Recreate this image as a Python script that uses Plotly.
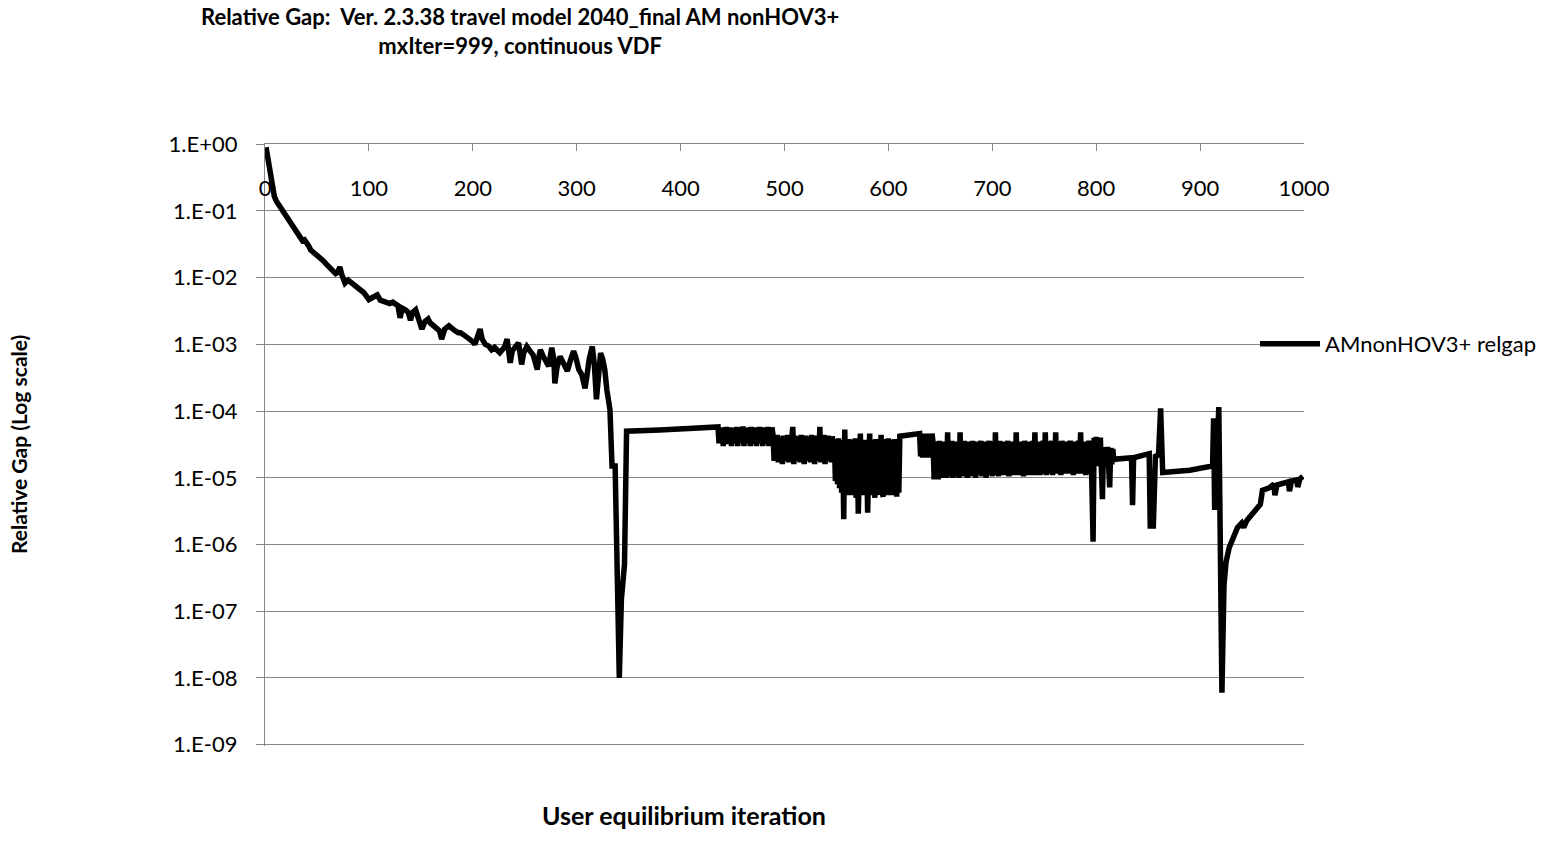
import plotly.graph_objects as go

# ---------------- data ----------------
# Early convergence phase (sparse points along the descending curve)
early_iter = [1, 3, 5, 7, 9, 11, 13, 15, 18, 21, 24, 27, 30, 33, 36, 38, 40, 42, 44, 47,
              50, 53, 56, 59, 62, 65, 68, 70, 72, 74, 77, 80, 83, 86, 89, 92, 95, 98, 100, 103,
              106, 108, 111, 114, 117, 120, 123, 126, 128, 130, 132, 135, 138, 140, 142, 145, 148, 151, 154, 157,
              159, 162, 165, 168, 170, 173, 177, 180, 183, 186, 188, 191, 194, 197, 200, 202, 205, 207, 209, 212,
              215, 218, 221, 224, 226, 229, 231, 233, 235, 236, 238, 241, 244, 246, 247, 249, 252, 255, 258, 260,
              262, 264, 265, 268, 270, 273, 276, 278, 279, 281, 284, 287, 289, 291, 294, 297, 299, 302, 305, 308,
              310, 312, 315, 317, 319, 321, 323, 325, 327, 329, 332, 334, 337, 341, 343, 346]
early_gap = [0.90, 0.55, 0.33, 0.22, 0.165, 0.14, 0.125, 0.11, 0.095, 0.078, 0.066, 0.056, 0.050, 0.042, 0.036, 0.037, 0.034, 0.030, 0.026, 0.024,
             0.022, 0.020, 0.018, 0.016, 0.0145, 0.013, 0.0115, 0.012, 0.0145, 0.011, 0.0083, 0.0092, 0.0085, 0.0080, 0.0072, 0.0066, 0.0060, 0.0052, 0.0047, 0.0050,
             0.0053, 0.0055, 0.0046, 0.0044, 0.0043, 0.0041, 0.0043, 0.0041, 0.0038, 0.0025, 0.0035, 0.0033, 0.0030, 0.0023, 0.0030, 0.0033, 0.0024, 0.0017, 0.0022, 0.0024,
             0.0021, 0.0019, 0.0018, 0.0016, 0.0012, 0.0017, 0.0019, 0.0017, 0.0016, 0.0015, 0.0015, 0.0014, 0.0013, 0.0012, 0.0011, 0.0010, 0.0013, 0.0017, 0.0012, 0.0010,
             0.00095, 0.00083, 0.00090, 0.00078, 0.00075, 0.00085, 0.00095, 0.0012, 0.00070, 0.00053, 0.00080, 0.00095, 0.00105, 0.00065, 0.00050, 0.00075, 0.00093, 0.00080, 0.00070, 0.00055,
             0.00042, 0.00070, 0.00083, 0.00065, 0.00055, 0.00047, 0.00089, 0.00060, 0.00026, 0.00045, 0.00066, 0.00055, 0.00045, 0.00040, 0.00058, 0.00079, 0.00065, 0.00042, 0.00035, 0.00022,
             0.00035, 0.00060, 0.00093, 0.00050, 0.00015, 0.00045, 0.00074, 0.00060, 0.00042, 0.00021, 0.000105, 0.000015, 0.000015, 1.0e-8, 1.5e-7, 5.0e-7]

# Plateau after the collapse
plateau_iter = [348, 380, 407, 409, 435]
plateau_gap = [5.0e-5, 5.2e-5, 5.5e-5, 5.6e-5, 5.9e-5]

# Oscillating stretches, one value per iteration
band_a_start = 436
band_a_gap = [5.8e-5, 3.3e-5, 5.6e-5, 3.4e-5, 5.7e-5, 3.0e-5, 5.5e-5, 3.5e-5,
              5.8e-5, 3.2e-5, 5.6e-5, 3.4e-5, 5.7e-5, 3.0e-5, 5.6e-5, 3.3e-5,
              5.5e-5, 3.4e-5, 5.8e-5, 3.0e-5, 5.6e-5, 3.5e-5, 5.7e-5, 3.3e-5,
              5.9e-5, 3.0e-5, 5.6e-5, 3.4e-5, 5.5e-5, 3.3e-5, 5.7e-5, 3.0e-5,
              5.8e-5, 3.5e-5, 5.6e-5, 3.2e-5, 5.7e-5, 3.0e-5, 5.5e-5, 3.4e-5,
              5.8e-5, 3.3e-5, 5.6e-5, 3.0e-5, 5.7e-5, 3.4e-5, 5.5e-5, 3.2e-5,
              5.8e-5, 3.0e-5, 5.6e-5, 3.3e-5, 5.7e-5]

band_b_start = 489
band_b_gap = [4.3e-5, 1.8e-5, 4.1e-5, 1.9e-5, 4.4e-5, 1.7e-5, 4.2e-5, 1.8e-5,
              4.0e-5, 1.6e-5, 4.3e-5, 1.9e-5, 4.1e-5, 1.8e-5, 4.4e-5, 1.7e-5,
              4.2e-5, 1.9e-5, 4.0e-5, 5.8e-5, 1.6e-5, 4.3e-5, 1.8e-5, 4.1e-5,
              1.9e-5, 4.2e-5, 1.7e-5, 4.4e-5, 1.8e-5, 4.0e-5, 1.6e-5, 4.3e-5,
              1.9e-5, 4.1e-5, 1.8e-5, 4.2e-5, 1.7e-5, 4.4e-5, 1.8e-5, 4.0e-5,
              1.6e-5, 4.3e-5, 1.9e-5, 4.1e-5, 1.8e-5, 5.8e-5, 1.7e-5, 4.2e-5,
              1.8e-5, 4.4e-5, 1.6e-5, 4.0e-5, 1.9e-5, 4.3e-5, 1.8e-5, 4.1e-5,
              1.7e-5, 4.2e-5, 1.8e-5]

band_c_start = 548
band_c_gap = [3.8e-5, 9.0e-6, 3.6e-5, 8.0e-6, 3.9e-5, 7.0e-6, 3.5e-5, 6.0e-6,
              3.7e-5, 2.4e-6, 5.3e-5, 6.5e-6, 3.6e-5, 5.5e-6, 3.8e-5, 6.0e-6,
              3.4e-5, 5.5e-6, 3.7e-5, 6.5e-6, 3.9e-5, 5.0e-6, 3.6e-5, 2.9e-6,
              3.8e-5, 4.6e-5, 5.5e-6, 3.5e-5, 6.0e-6, 3.7e-5, 5.5e-6, 3.6e-5,
              3.0e-6, 3.8e-5, 4.6e-5, 5.5e-6, 3.7e-5, 6.0e-6, 3.5e-5, 5.0e-6,
              3.8e-5, 5.5e-6, 3.6e-5, 6.5e-6, 3.7e-5, 4.4e-5, 6.0e-6, 5.2e-6,
              3.8e-5, 5.5e-6, 3.6e-5, 6.0e-6, 3.9e-5, 5.5e-6, 3.7e-5, 6.0e-6,
              3.5e-5, 5.5e-6, 3.8e-5, 6.0e-6, 5.2e-6, 3.7e-5, 6.0e-6]

shelf_iter = [611, 629]
shelf_gap = [4.2e-5, 4.6e-5]

band_d_start = 630
band_d_gap = [4.6e-5, 2.1e-5, 4.5e-5, 2.0e-5, 4.6e-5, 2.2e-5, 4.4e-5, 2.0e-5, 4.6e-5, 2.1e-5, 4.5e-5, 2.0e-5, 4.6e-5,
              3.4e-5, 9.5e-6, 3.5e-5, 1.0e-5, 3.3e-5, 9.5e-6, 3.6e-5, 1.05e-5, 3.4e-5, 1.0e-5,
              3.5e-5, 1.1e-5, 3.3e-5, 1.0e-5, 4.8e-5, 1.05e-5, 3.4e-5, 1.1e-5, 3.6e-5, 1.0e-5,
              3.3e-5, 1.05e-5, 3.5e-5, 1.1e-5, 3.4e-5, 1.0e-5, 4.8e-5, 1.1e-5, 3.5e-5, 1.05e-5,
              3.6e-5, 1.1e-5, 3.3e-5, 1.0e-5, 3.5e-5, 1.15e-5, 3.4e-5, 1.05e-5, 3.6e-5, 1.1e-5,
              3.3e-5, 1.0e-5, 3.5e-5, 1.1e-5, 3.4e-5, 1.15e-5, 3.6e-5, 1.05e-5, 3.3e-5, 1.1e-5,
              3.5e-5, 1.0e-5, 3.4e-5, 1.15e-5, 3.6e-5, 1.1e-5, 3.3e-5, 1.05e-5, 3.5e-5, 1.1e-5,
              4.8e-5, 1.15e-5, 3.4e-5, 1.05e-5, 3.6e-5, 1.1e-5, 3.3e-5, 1.2e-5, 3.5e-5, 1.1e-5,
              3.4e-5, 1.15e-5, 3.6e-5, 1.05e-5, 3.3e-5, 1.1e-5, 3.5e-5, 1.2e-5, 3.4e-5, 1.1e-5,
              4.8e-5, 1.15e-5, 3.3e-5, 1.1e-5, 3.5e-5, 1.2e-5, 3.4e-5, 1.05e-5, 3.6e-5, 1.15e-5,
              3.3e-5, 1.1e-5, 3.5e-5, 1.2e-5, 3.4e-5, 1.1e-5, 3.6e-5, 1.15e-5, 4.8e-5, 1.1e-5,
              3.3e-5, 1.2e-5, 3.5e-5, 1.1e-5, 3.4e-5, 1.15e-5, 3.6e-5, 1.2e-5, 4.8e-5, 1.1e-5,
              3.5e-5, 1.2e-5, 3.3e-5, 1.15e-5, 3.6e-5, 1.1e-5, 3.4e-5, 1.2e-5, 4.8e-5, 1.15e-5,
              3.5e-5, 1.2e-5, 3.3e-5, 1.1e-5, 3.6e-5, 1.2e-5, 3.4e-5, 1.15e-5, 3.5e-5, 1.2e-5,
              3.3e-5, 1.15e-5, 3.6e-5, 1.2e-5, 3.4e-5, 1.1e-5, 3.5e-5, 1.2e-5, 3.3e-5, 1.15e-5,
              3.6e-5, 1.2e-5, 4.8e-5, 1.15e-5, 3.4e-5, 1.2e-5, 3.5e-5, 1.1e-5, 3.3e-5, 1.2e-5,
              3.6e-5, 1.15e-5, 3.4e-5, 1.2e-5,
              1.1e-6, 4.0e-5, 1.5e-5, 4.1e-5, 1.6e-5, 3.9e-5, 1.5e-5, 4.0e-5, 2.0e-5, 4.8e-6,
              2.9e-5, 1.6e-5, 2.8e-5, 1.5e-5, 2.9e-5, 1.7e-5, 7.2e-6, 2.8e-5, 1.6e-5, 2.7e-5,
              1.8e-5, 1.9e-5]

# Late phase (sparse points)
late_iter = [834, 835, 836, 851, 852, 855, 857, 860, 862, 864, 890, 912, 913, 914, 918, 921,
             923, 925, 928, 932, 936, 940, 942, 945, 950, 955, 958, 960, 966, 971, 972, 974,
             980, 985, 986, 988, 993, 994, 996, 999]
late_gap = [2.0e-5, 3.9e-6, 2.0e-5, 2.3e-5, 1.9e-6, 1.9e-6, 2.1e-5, 2.2e-5, 1.1e-4, 1.2e-5, 1.3e-5, 1.5e-5, 7.8e-5, 3.3e-6, 1.15e-4, 6.0e-9,
            2.5e-7, 5.5e-7, 9.0e-7, 1.3e-6, 1.8e-6, 2.1e-6, 1.8e-6, 2.3e-6, 2.9e-6, 3.5e-6, 4.0e-6, 6.5e-6, 7.0e-6, 8.0e-6, 5.5e-6, 7.8e-6,
            8.2e-6, 8.7e-6, 6.3e-6, 8.9e-6, 9.3e-6, 7.3e-6, 9.6e-6, 1.05e-5]

x_ticks = [0, 100, 200, 300, 400, 500, 600, 700, 800, 900, 1000]
y_ticks = [1e0, 1e-1, 1e-2, 1e-3, 1e-4, 1e-5, 1e-6, 1e-7, 1e-8, 1e-9]
y_tick_text = ["1.E+00", "1.E-01", "1.E-02", "1.E-03", "1.E-04",
               "1.E-05", "1.E-06", "1.E-07", "1.E-08", "1.E-09"]

# ---------------- assemble series ----------------
iters, gaps = [], []
iters += early_iter; gaps += early_gap
iters += plateau_iter; gaps += plateau_gap
for start, vals in [(band_a_start, band_a_gap), (band_b_start, band_b_gap), (band_c_start, band_c_gap)]:
    iters += list(range(start, start + len(vals))); gaps += vals
iters += shelf_iter; gaps += shelf_gap
iters += list(range(band_d_start, band_d_start + len(band_d_gap))); gaps += band_d_gap
iters += late_iter; gaps += late_gap

FONT = "Lato"
GRID = "#878787"
TICK_SIZE = 22

fig = go.Figure()
fig.add_trace(go.Scatter(
    x=iters, y=gaps, mode="lines", name="AMnonHOV3+ relgap",
    line=dict(color="black", width=5.5),
))
# empty trace to carry the top axis with its tick marks
fig.add_trace(go.Scatter(x=[], y=[], xaxis="x2", yaxis="y", showlegend=False, hoverinfo="skip"))

W, H = 1558, 858
L, R, T, B = 265, 254, 144, 112
ph = H - T - B
pw = W - L - R

fig.update_layout(
    width=W, height=H,
    margin=dict(l=L, r=R, t=T, b=B),
    paper_bgcolor="white", plot_bgcolor="white",
    font=dict(family=FONT, size=TICK_SIZE, color="black"),
    showlegend=True,
    legend=dict(x=(1255 - L) / pw, y=(H - B - 344) / ph, xanchor="left", yanchor="middle",
                font=dict(family=FONT, size=TICK_SIZE, color="black"), bgcolor="rgba(0,0,0,0)",
                itemwidth=60),
    xaxis=dict(
        range=[0, 1000], tickvals=x_ticks, ticktext=[str(v) for v in x_ticks],
        anchor="free", position=(H - B - 173) / ph, side="bottom",
        showline=False, showgrid=False, zeroline=False, ticks="",
        tickfont=dict(family=FONT, size=TICK_SIZE, color="black"),
    ),
    xaxis2=dict(
        range=[0, 1000], tickvals=x_ticks, overlaying="x", side="top", anchor="y",
        showline=True, linecolor=GRID, linewidth=1.3, showgrid=False, zeroline=False,
        ticks="inside", ticklen=7, tickcolor=GRID, tickwidth=1.3, showticklabels=False,
    ),
    yaxis=dict(
        type="log", range=[-9.02, 0.004], tickvals=y_ticks, ticktext=y_tick_text,
        showline=True, linecolor=GRID, linewidth=1.3,
        showgrid=True, gridcolor=GRID, gridwidth=1.3, zeroline=False,
        ticks="outside", ticklen=8, tickcolor=GRID, tickwidth=1.3, ticklabelstandoff=14,
        tickfont=dict(family=FONT, size=TICK_SIZE, color="black"),
        anchor="x",
    ),
    annotations=[
        dict(text="<b>Relative Gap:\u00a0\u00a0Ver. 2.3.38 travel model 2040_final AM nonHOV3+</b><br><b>mxIter=999, continuous VDF</b>",
             xref="paper", yref="paper", x=(520 - L) / pw, y=(H - B - 31) / ph,
             xanchor="center", yanchor="middle", showarrow=False, align="center",
             font=dict(family=FONT, size=22, color="black")),
        dict(text="<b>User equilibrium iteration</b>",
             xref="paper", yref="paper", x=(684 - L) / pw, y=(H - B - 815) / ph,
             xanchor="center", yanchor="middle", showarrow=False,
             font=dict(family=FONT, size=25, color="black")),
        dict(text="<b>Relative Gap (Log scale)</b>", textangle=-90,
             xref="paper", yref="paper", x=(18 - L) / pw, y=(H - B - 445) / ph,
             xanchor="center", yanchor="middle", showarrow=False,
             font=dict(family=FONT, size=21, color="black")),
    ],
)

fig.write_html("out.html")
